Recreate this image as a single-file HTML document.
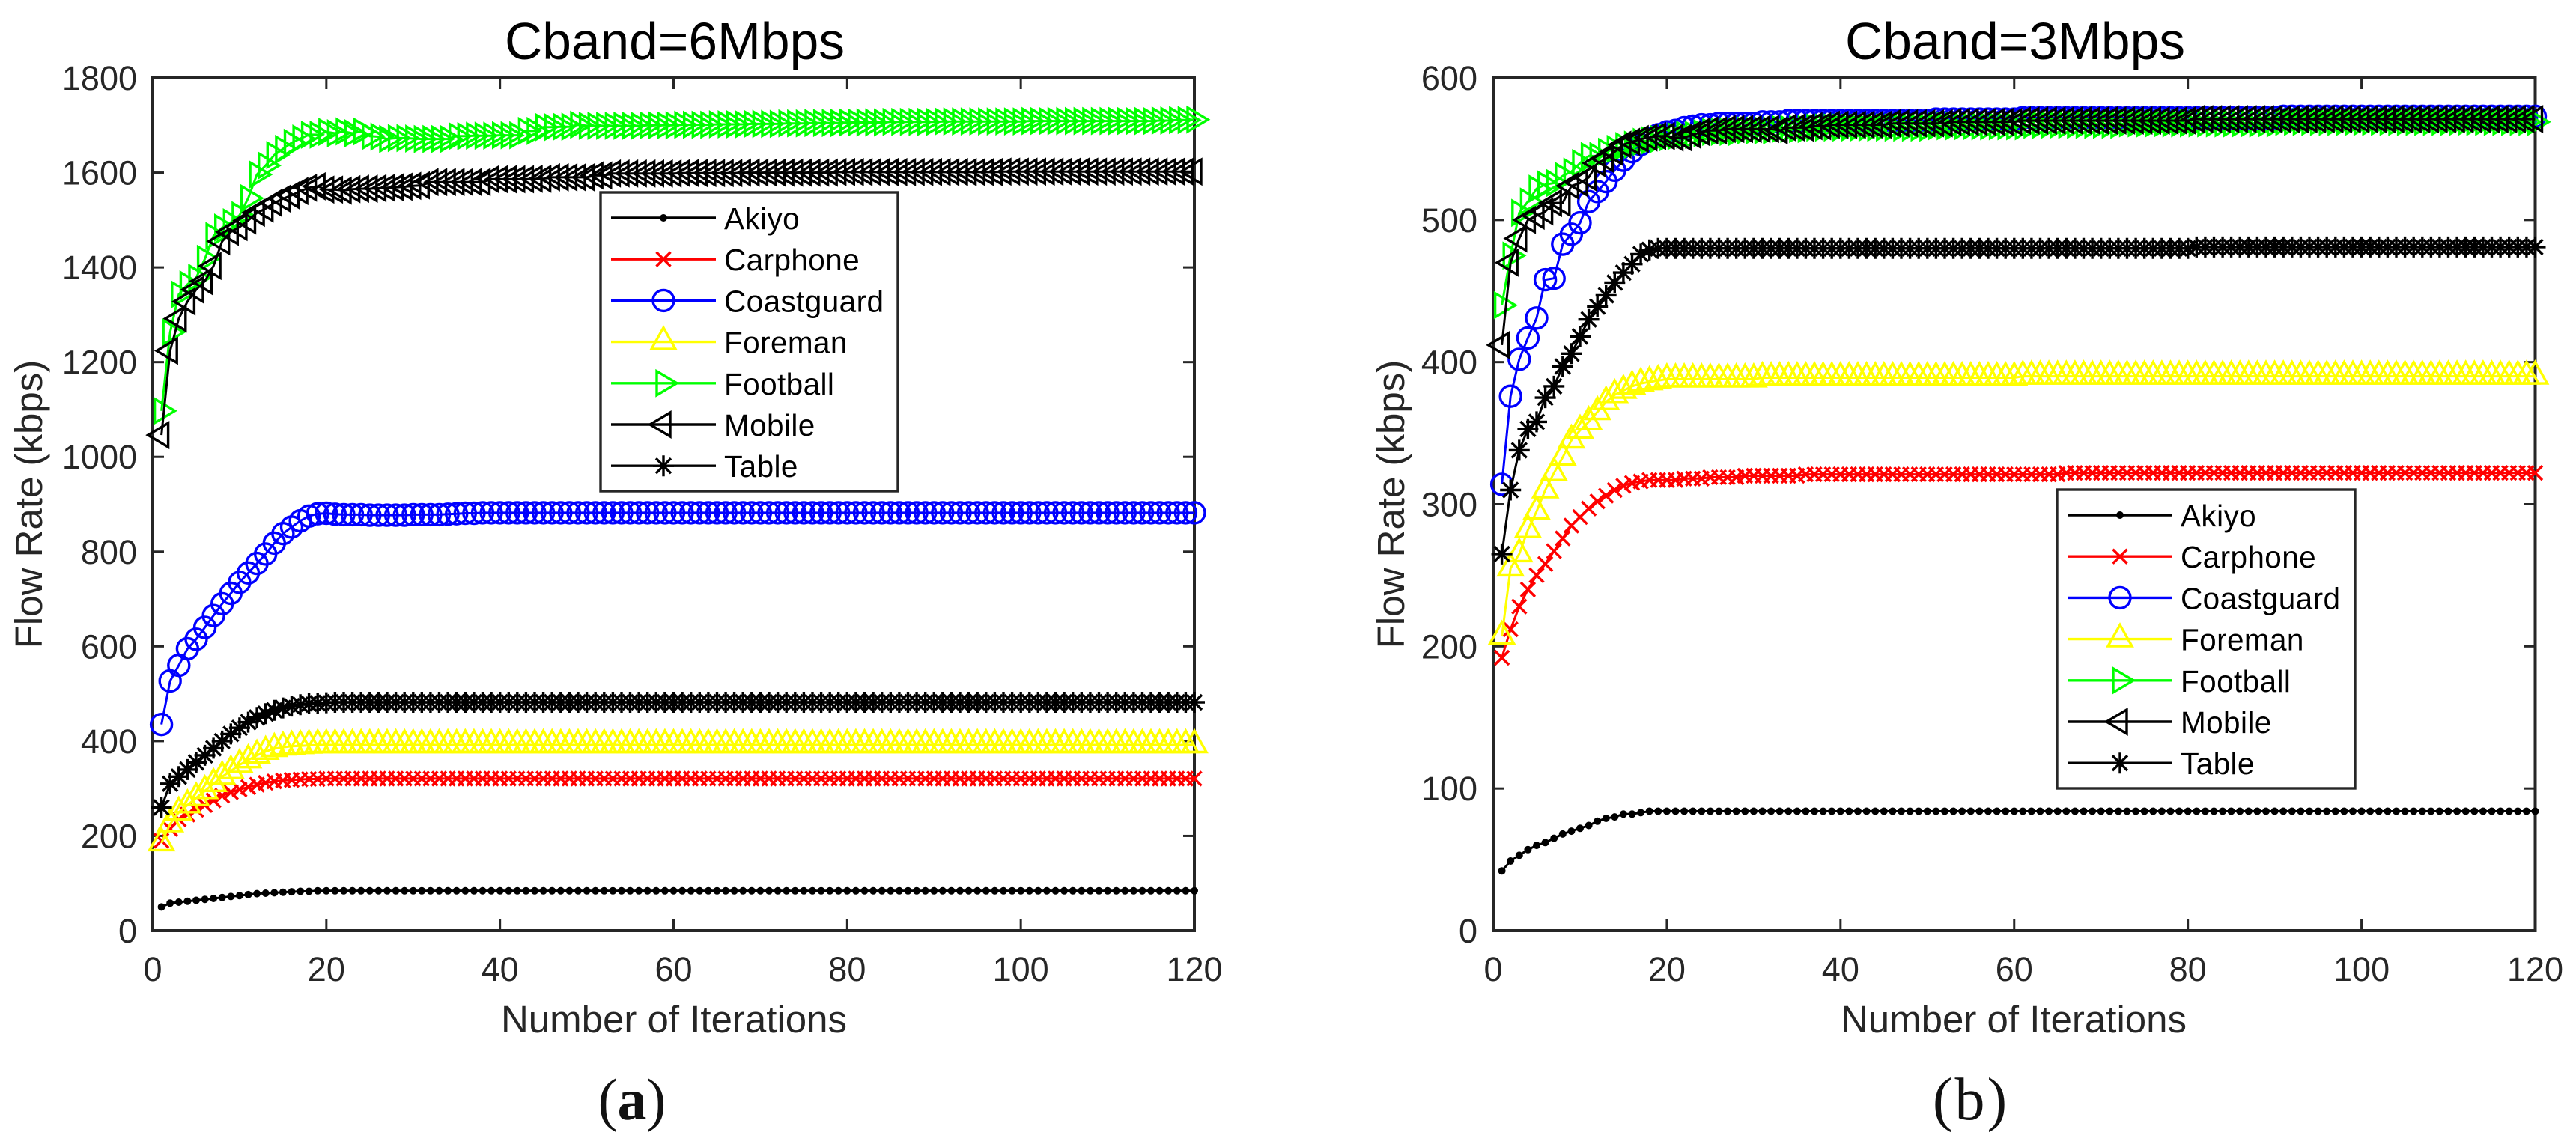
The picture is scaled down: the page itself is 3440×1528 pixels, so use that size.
<!DOCTYPE html>
<html lang="en">
<head>
<meta charset="utf-8">
<title>Flow rate vs. iterations</title>
<style>
html,body{margin:0;padding:0;background:#fff;width:3440px;height:1528px;overflow:hidden}
svg{display:block}
text{font-family:"Liberation Sans",Arial,sans-serif}
.cap{font-family:"Liberation Serif","Times New Roman",serif}
</style>
</head>
<body>
<svg id="figure" xmlns="http://www.w3.org/2000/svg" width="3440" height="1528" viewBox="0 0 3440 1528">
<rect width="3440" height="1528" fill="#fff"/>
<text class="cap" x="844" y="1495" font-size="78" text-anchor="middle" fill="#111">(<tspan font-weight="bold">a</tspan>)</text>
<text class="cap" x="2632" y="1495" font-size="80" letter-spacing="3" text-anchor="middle" fill="#111">(b)</text>
</svg>
<script>
const seriesNames = ["Akiyo","Carphone","Coastguard","Foreman","Football","Mobile","Table"];
const xTickValues = [0,20,40,60,80,100,120];
const yTicksA = [0,200,400,600,800,1000,1200,1400,1600,1800];
const yTicksB = [0,100,200,300,400,500,600];

const aAkiyo = [50,58,60,62,64,66,68,70,72,74,76,78,79,80,81,82,83,83,84,84,
84,84,84,84,84,84,84,84,84,84,
84,84,84,84,84,84,84,84,84,84,
84,84,84,84,84,84,84,84,84,84,
84,84,84,84,84,84,84,84,84,84,
84,84,84,84,84,84,84,84,84,84,
84,84,84,84,84,84,84,84,84,84,
84,84,84,84,84,84,84,84,84,84,
84,84,84,84,84,84,84,84,84,84,
84,84,84,84,84,84,84,84,84,84,
84,84,84,84,84,84,84,84,84,84];
const aCarphone = [190,215,235,245,255,265,275,285,292,298,303,308,312,315,317,318,319,320,320,321,
321,321,321,321,321,321,321,321,321,321,
321,321,321,321,321,321,321,321,321,321,
321,321,321,321,321,321,321,321,321,321,
321,321,321,321,321,321,321,321,321,321,
321,321,321,321,321,321,321,321,321,321,
321,321,321,321,321,321,321,321,321,321,
321,321,321,321,321,321,321,321,321,321,
321,321,321,321,321,321,321,321,321,321,
321,321,321,321,321,321,321,321,321,321,
321,321,321,321,321,321,321,321,321,321];
const aCoastguard = [435,527,560,595,615,640,665,690,712,735,755,775,795,818,838,852,865,875,880,881,
879,878,878,878,877,877,877,877,877,878,
878,878,878,879,880,881,881,882,882,882,
882,882,882,882,882,882,882,882,882,882,
882,882,882,882,882,882,882,882,882,882,
882,882,882,882,882,882,882,882,882,882,
882,882,882,882,882,882,882,882,882,882,
882,882,882,882,882,882,882,882,882,882,
882,882,882,882,882,882,882,882,882,882,
882,882,882,882,882,882,882,882,882,882,
882,882,882,882,882,882,882,882,882,882];
const aForeman = [185,225,250,265,280,295,310,325,337,350,360,370,378,384,387,389,390,391,392,392,
392,392,392,392,392,392,392,392,392,392,
392,392,392,392,392,392,392,392,392,392,
392,392,392,392,392,392,392,392,392,392,
392,392,392,392,392,392,392,392,392,392,
392,392,392,392,392,392,392,392,392,392,
392,392,392,392,392,392,392,392,392,392,
392,392,392,392,392,392,392,392,392,392,
392,392,392,392,392,392,392,392,392,392,
392,392,392,392,392,392,392,392,392,392,
392,392,392,392,392,392,392,392,392,392];
const aFootball = [1097,1263,1343,1364,1378,1418,1466,1484,1495,1510,1546,1596,1615,1637,1650,1663,1672,1680,1680,1686,
1683,1687,1683,1687,1677,1676,1671,1673,1673,1672,
1671,1671,1671,1671,1677,1677,1678,1678,1678,1679,
1679,1679,1688,1688,1696,1696,1697,1697,1701,1699,
1699,1699,1699,1699,1699,1699,1700,1700,1700,1700,
1701,1701,1701,1701,1702,1702,1702,1702,1703,1703,
1703,1703,1704,1704,1704,1705,1705,1705,1705,1706,
1706,1706,1706,1706,1707,1707,1707,1707,1707,1707,
1708,1708,1708,1708,1708,1708,1708,1708,1708,1708,
1709,1709,1709,1709,1709,1709,1709,1709,1709,1709,
1709,1709,1709,1709,1709,1710,1710,1711,1711,1712];
const aMobile = [1046,1224,1292,1328,1353,1371,1403,1455,1475,1485,1499,1515,1524,1536,1545,1552,1561,1568,1571,1564,
1564,1562,1565,1566,1566,1567,1568,1569,1570,1572,
1573,1580,1580,1580,1580,1580,1580,1580,1586,1586,
1586,1586,1586,1587,1587,1590,1590,1590,1590,1590,
1594,1594,1598,1598,1598,1598,1598,1598,1598,1598,
1599,1599,1599,1599,1599,1599,1599,1600,1600,1600,
1600,1600,1600,1600,1600,1600,1600,1600,1601,1601,
1601,1601,1601,1601,1601,1601,1601,1601,1601,1601,
1601,1601,1601,1601,1601,1601,1601,1602,1602,1602,
1602,1602,1602,1602,1602,1602,1602,1602,1602,1602,
1602,1602,1602,1602,1602,1602,1602,1602,1602,1602];
const aTable = [260,310,325,340,355,370,385,400,415,428,440,450,458,465,470,474,477,479,480,481,
482,482,482,482,482,482,482,482,482,482,
482,482,482,482,482,482,482,482,482,482,
482,482,482,482,482,482,482,482,482,482,
482,482,482,482,482,482,482,482,482,482,
482,482,482,482,482,482,482,482,482,482,
482,482,482,482,482,482,482,482,482,482,
482,482,482,482,482,482,482,482,482,482,
482,482,482,482,482,482,482,482,482,482,
482,482,482,482,482,482,482,482,482,482,
482,482,482,482,482,482,482,482,482,482];

const bAkiyo = [42,49,53,57,60,62,65,68,70,72,74,77,79,80,82,82,83,84,84,84,
84,84,84,84,84,84,84,84,84,84,
84,84,84,84,84,84,84,84,84,84,
84,84,84,84,84,84,84,84,84,84,
84,84,84,84,84,84,84,84,84,84,
84,84,84,84,84,84,84,84,84,84,
84,84,84,84,84,84,84,84,84,84,
84,84,84,84,84,84,84,84,84,84,
84,84,84,84,84,84,84,84,84,84,
84,84,84,84,84,84,84,84,84,84,
84,84,84,84,84,84,84,84,84,84];
const bCarphone = [192,212,228,240,250,258,267,276,285,291,297,302,306,310,313,315,316,317,317,317,
317,318,318,318,319,319,319,319,320,320,
320,320,320,320,320,321,321,321,321,321,
321,321,321,321,321,321,321,321,321,321,
321,321,321,321,321,321,321,321,321,321,
321,321,321,321,321,322,322,322,322,322,
322,322,322,322,322,322,322,322,322,322,
322,322,322,322,322,322,322,322,322,322,
322,322,322,322,322,322,322,322,322,322,
322,322,322,322,322,322,322,322,322,322,
322,322,322,322,322,322,322,322,322,322];
const bCoastguard = [314,376,402,417,431,458,459,483,490,498,513,520,527,535,542,548,553,557,560,562,
563,565,566,567,567,568,568,568,568,568,
569,569,569,570,570,570,570,570,570,570,
570,570,570,570,570,570,570,570,570,570,
571,571,571,571,571,571,571,571,571,571,
572,572,572,572,572,572,572,572,572,572,
572,572,572,572,572,572,572,572,572,572,
572,572,572,572,572,572,572,572,572,572,
573,573,573,573,573,573,573,573,573,573,
573,573,573,573,573,573,573,573,573,573,
573,573,573,573,573,573,573,573,573,573];
const bForeman = [207,255,265,282,295,310,322,333,345,352,358,365,372,377,380,383,385,386,387,388,
388,388,388,388,388,388,388,388,388,388,
389,389,389,389,389,389,389,389,389,389,
389,389,389,389,389,389,389,389,389,389,
389,389,389,389,389,389,389,389,389,389,
390,390,390,390,390,390,390,390,390,390,
390,390,390,390,390,390,390,390,390,390,
390,390,390,390,390,390,390,390,390,390,
390,390,390,390,390,390,390,390,390,390,
390,390,390,390,390,390,390,390,390,390,
390,390,390,390,390,390,390,390,390,390];
const bFootball = [440,475,505,513,522,525,526,531,534,540,545,545,548,550,552,553,555,556,557,558,
559,560,560,561,562,562,562,562,563,563,
563,563,564,564,564,564,565,565,565,565,
565,565,565,565,565,565,565,565,565,565,
566,566,566,566,566,566,566,566,566,566,
566,567,567,567,567,567,567,567,567,567,
567,567,568,568,568,568,568,568,568,568,
568,568,568,568,568,568,568,568,568,568,
569,569,569,569,569,569,569,569,569,569,
569,569,569,569,569,569,569,569,569,569,
569,569,569,569,569,569,569,569,569,569];
const bMobile = [412,470,487,500,503,506,512,512,524,526,530,540,543,548,553,555,557,558,559,559,
558,558,560,562,563,563,564,564,564,564,
564,564,563,565,565,565,566,566,567,567,
567,567,567,567,567,568,568,568,568,568,
568,568,569,569,569,569,569,569,569,569,
570,570,570,570,570,570,570,570,570,570,
570,570,570,570,570,570,570,570,570,570,
571,571,571,571,571,571,571,571,571,571,
571,571,571,571,571,571,571,571,571,571,
571,571,571,571,571,571,571,571,571,571,
571,571,571,571,571,571,571,571,571,571];
const bTable = [265,310,338,353,358,375,383,397,406,418,430,439,447,456,463,469,476,479,480,480,
480,480,480,480,480,480,480,480,480,480,
480,480,480,480,480,480,480,480,480,480,
480,480,480,480,480,480,480,480,480,480,
480,480,480,480,480,480,480,480,480,480,
480,480,480,480,480,480,480,480,480,480,
480,480,480,480,480,480,480,480,480,480,
481,481,481,481,481,481,481,481,481,481,
481,481,481,481,481,481,481,481,481,481,
481,481,481,481,481,481,481,481,481,481,
481,481,481,481,481,481,481,481,481,481];

const seriesColors = ["#000","#f00","#00f","#ff0","#0f0","#000","#000"];
const seriesMarkers = ["dot","x","circle","up","right","left","star"];
const AXIS_COLOR = "#262626";
const NS = "http://www.w3.org/2000/svg";
const root = document.getElementById("figure");

function make(tag, parent, attrs) {
  const node = document.createElementNS(NS, tag);
  for (const k in attrs) node.setAttribute(k, attrs[k]);
  parent.appendChild(node);
  return node;
}
function slug(s) { return s.toLowerCase(); }

function markerPath(kind, x, y) {
  const p = (dx, dy) => (x + dx).toFixed(1) + " " + (y + dy).toFixed(1);
  switch (kind) {
    case "x": return "M" + p(-9.5,-9.5) + "L" + p(9.5,9.5) + "M" + p(-9.5,9.5) + "L" + p(9.5,-9.5);
    case "up": return "M" + p(0,-19) + "L" + p(16,9.5) + "L" + p(-16,9.5) + "Z";
    case "right": return "M" + p(-9,-16) + "L" + p(18,0) + "L" + p(-9,16) + "Z";
    case "left": return "M" + p(9,-16) + "L" + p(-18,0) + "L" + p(9,16) + "Z";
    case "star": return "M" + p(0,-14) + "L" + p(0,14) + "M" + p(-14,0) + "L" + p(14,0) +
                        "M" + p(-10,-10) + "L" + p(10,10) + "M" + p(-10,10) + "L" + p(10,-10);
  }
  return "";
}
function drawMarker(parent, kind, x, y, color) {
  let m;
  if (kind === "dot") {
    m = make("circle", parent, {cx:x.toFixed(1), cy:y.toFixed(1), r:5, fill:color});
  } else if (kind === "circle") {
    m = make("circle", parent, {cx:x.toFixed(1), cy:y.toFixed(1), r:14, fill:"none", stroke:color, "stroke-width":3.4});
  } else {
    m = make("path", parent, {d:markerPath(kind, x, y), fill:"none", stroke:color, "stroke-width":3.4, "stroke-linejoin":"miter"});
  }
  return m;
}

function drawPanel(cfg) {
  const panel = make("g", root, {});
  
  
  const sx = v => cfg.left + (v - 0) / 120 * (cfg.right - cfg.left);
  const sy = v => cfg.bottom - v / cfg.yMax * (cfg.bottom - cfg.top);

  const frame = make("rect", panel, {x:cfg.left, y:cfg.top, width:cfg.right-cfg.left, height:cfg.bottom-cfg.top, fill:"none", stroke:AXIS_COLOR, "stroke-width":4});
  
  

  xTickValues.forEach(v => {
    const x = sx(v);
    if (v > 0 && v < 120) {
      const t1 = make("line", panel, {x1:x, x2:x, y1:cfg.bottom, y2:cfg.bottom-15, stroke:AXIS_COLOR, "stroke-width":3});
      
      
      const t2 = make("line", panel, {x1:x, x2:x, y1:cfg.top, y2:cfg.top+15, stroke:AXIS_COLOR, "stroke-width":3});
      
      
    }
    const lab = make("text", panel, {x:x, y:1310, "font-size":cfg.tickSize, "text-anchor":"middle", fill:AXIS_COLOR});
    
    
    lab.textContent = v;
  });
  cfg.yTicks.forEach(v => {
    const y = sy(v);
    if (v > 0 && v < cfg.yMax) {
      const t1 = make("line", panel, {x1:cfg.left, x2:cfg.left+15, y1:y, y2:y, stroke:AXIS_COLOR, "stroke-width":3});
      
      
      const t2 = make("line", panel, {x1:cfg.right-15, x2:cfg.right, y1:y, y2:y, stroke:AXIS_COLOR, "stroke-width":3});
      
      
    }
    const lab = make("text", panel, {x:cfg.left-21, y:y+16, "font-size":cfg.tickSize, "text-anchor":"end", fill:AXIS_COLOR});
    
    
    lab.textContent = v;
  });

  const title = make("text", panel, {x:cfg.titleX, y:79, "font-size":69.5, "text-anchor":"middle", fill:"#000"});
  
  
  title.textContent = cfg.title;

  const xTitle = make("text", panel, {x:cfg.xLabelX, y:1379, "font-size":51, "text-anchor":"middle", fill:AXIS_COLOR});
  
  
  xTitle.textContent = "Number of Iterations";

  const yMid = (cfg.top + cfg.bottom) / 2;
  const yTitle = make("text", panel, {transform:"translate(" + cfg.yLabelX + " " + yMid + ") rotate(-90)", "font-size":51, "text-anchor":"middle", fill:AXIS_COLOR});
  
  
  yTitle.textContent = "Flow Rate (kbps)";

  cfg.series.forEach((vals, si) => {
    const color = seriesColors[si];
    const kind = seriesMarkers[si];
    const g = make("g", panel, {});
    
    
    const pts = vals.map((v, i) => sx(i + 1).toFixed(1) + "," + sy(v).toFixed(1)).join(" ");
    const line = make("polyline", g, {points:pts, fill:"none", stroke:color, "stroke-width":3});
    
    
    vals.forEach((v, i) => {
      const mk = drawMarker(g, kind, sx(i + 1), sy(v), color);
      
      
    });
  });

  const lg = make("g", panel, {});
  
  
  const box = make("rect", lg, {x:cfg.legX, y:cfg.legY, width:cfg.legW, height:cfg.legH, fill:"#fff", stroke:AXIS_COLOR, "stroke-width":3.4});
  
  
  seriesNames.forEach((name, i) => {
    const y = cfg.legY + 34 + i * 55.2;
    const x0 = cfg.legX + 14;
    const e = make("g", lg, {});
    
    
    const ln = make("line", e, {x1:x0, x2:x0+140, y1:y, y2:y, stroke:seriesColors[i], "stroke-width":3.4});
    
    
    const mk = drawMarker(e, seriesMarkers[i], x0 + 70, y, seriesColors[i]);
    
    
    const tx = make("text", e, {x:x0+151, y:y+15, "font-size":40.5, "letter-spacing":0.4, fill:"#000"});
    
    
    tx.textContent = name;
  });
}

drawPanel({
  id:"a", title:"Cband=6Mbps", left:204, right:1595, top:104, bottom:1243, yMax:1800, yTicks:yTicksA,
  tickSize:45, titleX:901, xLabelX:900, yLabelX:56,
  legX:802, legY:257, legW:397, legH:399,
  series:[aAkiyo,aCarphone,aCoastguard,aForeman,aFootball,aMobile,aTable]
});
drawPanel({
  id:"b", title:"Cband=3Mbps", left:1994, right:3385.5, top:104, bottom:1243, yMax:600, yTicks:yTicksB,
  tickSize:45, titleX:2691, xLabelX:2689, yLabelX:1875,
  legX:2747, legY:654, legW:398, legH:399,
  series:[bAkiyo,bCarphone,bCoastguard,bForeman,bFootball,bMobile,bTable]
});
</script>
</body>
</html>
